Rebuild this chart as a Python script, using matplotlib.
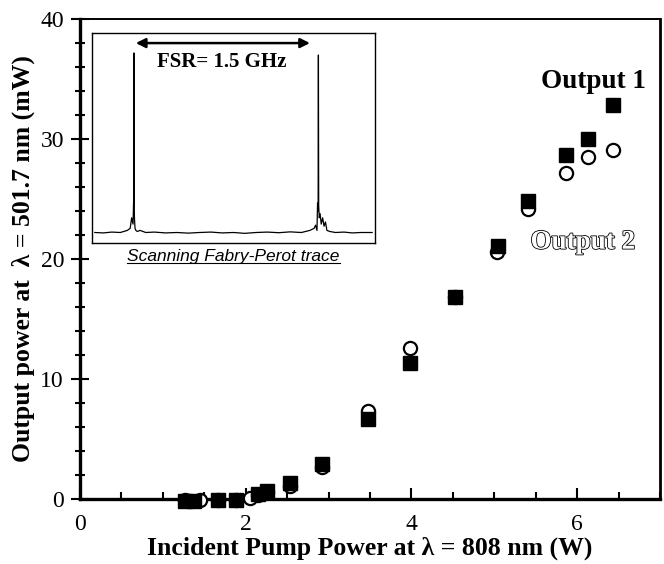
import matplotlib
matplotlib.use("Agg")
import matplotlib.pyplot as plt
import matplotlib.patheffects as pe
from matplotlib.ticker import MultipleLocator

# ---- data ----
out1_x = [1.27, 1.38, 1.67, 1.88, 2.15, 2.26, 2.54, 2.92, 3.47, 3.98, 4.52, 5.04, 5.41, 5.87, 6.13, 6.43]
out1_y = [-0.15, -0.15, -0.1, -0.1, 0.4, 0.7, 1.3, 2.9, 6.7, 11.3, 16.8, 21.1, 24.8, 28.7, 30.0, 32.8]
out2_x = [1.27, 1.45, 1.67, 1.88, 2.05, 2.15, 2.26, 2.54, 2.92, 3.47, 3.98, 4.52, 5.03, 5.41, 5.87, 6.13, 6.43]
out2_y = [-0.1, -0.1, -0.1, -0.1, 0.05, 0.35, 0.6, 1.1, 2.7, 7.3, 12.6, 16.8, 20.6, 24.2, 27.2, 28.5, 29.1]

x_ticks = [0, 2, 4, 6]
y_ticks = [0, 10, 20, 30, 40]

# Fabry-Perot trace (arbitrary units)
fp_x = [0.01, 0.04, 0.07, 0.10, 0.125, 0.135, 0.14, 0.145, 0.147, 0.148, 0.149, 0.150, 0.152, 0.155,
        0.16, 0.17, 0.19, 0.22, 0.26, 0.30, 0.34, 0.38, 0.42, 0.46, 0.50, 0.54, 0.58, 0.62, 0.66,
        0.70, 0.74, 0.77, 0.785, 0.79, 0.795, 0.797, 0.799, 0.800, 0.801, 0.803, 0.806, 0.81, 0.815,
        0.82, 0.825, 0.83, 0.84, 0.86, 0.89, 0.92, 0.95, 0.99]
fp_y = [0.05, 0.048, 0.052, 0.05, 0.06, 0.07, 0.12, 0.09, 0.20, 0.905, 0.20, 0.12, 0.07, 0.06,
        0.055, 0.06, 0.05, 0.052, 0.048, 0.05, 0.047, 0.05, 0.052, 0.048, 0.05, 0.046, 0.05, 0.052, 0.049,
        0.053, 0.05, 0.06, 0.07, 0.085, 0.06, 0.19, 0.15, 0.895, 0.18, 0.12, 0.14, 0.09, 0.12,
        0.08, 0.10, 0.06, 0.055, 0.05, 0.052, 0.048, 0.05, 0.05]

plt.rcParams['font.family'] = ['Liberation Serif', 'DejaVu Serif']

fig = plt.figure(figsize=(6.64, 5.64), dpi=100)
ax = fig.add_axes([80/664, 1-499/564, 580/664, 480/564])

ax.plot(out2_x, out2_y, linestyle='none', marker='o', markersize=9.5,
        markerfacecolor='white', markeredgecolor='black', markeredgewidth=1.6,
        clip_on=False, zorder=3)
ax.plot(out1_x, out1_y, linestyle='none', marker='s', markersize=10,
        markerfacecolor='black', markeredgecolor='black', clip_on=False, zorder=4)

ax.set_xlim(0, 7)
ax.set_ylim(0, 40)
ax.set_xticks(x_ticks)
ax.set_yticks(y_ticks)
ax.xaxis.set_minor_locator(MultipleLocator(0.5))
ax.yaxis.set_minor_locator(MultipleLocator(2))
ax.tick_params(axis='x', which='both', direction='in', top=False, labelsize=17, pad=11, width=1.5)
ax.tick_params(axis='x', which='major', length=8)
ax.tick_params(axis='x', which='minor', length=5)
ax.tick_params(axis='y', which='both', direction='inout', right=False, labelsize=17, pad=5, width=1.5)
ax.tick_params(axis='y', which='major', length=13)
ax.tick_params(axis='y', which='minor', length=7)
for s in ax.spines.values():
    s.set_linewidth(1.2)
ax.spines['left'].set_linewidth(2.4)
ax.spines['bottom'].set_linewidth(2.4)
ax.spines['right'].set_linewidth(2.0)
ax.spines['top'].set_linewidth(1.4)

ax.set_xlabel('Incident Pump Power at λ = 808 nm (W)', fontsize=18.5, fontweight='bold', labelpad=1)
ax.set_ylabel('Output power at  λ = 501.7 nm (mW)', fontsize=18.5, fontweight='bold', labelpad=4)

ax.text(6.2, 34.75, 'Output 1', fontsize=19.5, fontweight='bold', ha='center', va='center')
ax.text(6.07, 21.4, 'Output 2', fontsize=19.5, fontweight='bold', ha='center', va='center',
        color='white', path_effects=[pe.Stroke(linewidth=1.2, foreground='black'), pe.Normal()])

# inset
ins = fig.add_axes([92/664, 1-243/564, 283/664, 210/564])
ins.plot(fp_x, fp_y, color='black', linewidth=0.9)
ins.set_xlim(0, 1)
ins.set_ylim(0, 1)
ins.set_xticks([])
ins.set_yticks([])
for s in ins.spines.values():
    s.set_linewidth(1.0)
ins.annotate('', xy=(0.145, 0.952), xytext=(0.78, 0.952),
             arrowprops=dict(arrowstyle='<|-|>', color='black', lw=1.8, mutation_scale=14))
ins.text(0.46, 0.86, 'FSR= 1.5 GHz', fontsize=15, fontweight='bold', ha='center', va='center')

cap = fig.text((92+375)/2/664, 1-257/564, 'Scanning Fabry-Perot trace', fontsize=12.5,
               style='italic', family=['Liberation Sans', 'DejaVu Sans'], ha='center', va='center')
fig.canvas.draw()
bb = cap.get_window_extent(fig.canvas.get_renderer()).transformed(fig.transFigure.inverted())
fig.add_artist(plt.Line2D([bb.x0, bb.x1], [bb.y0 + 0.002, bb.y0 + 0.002], color='black', lw=0.8,
                          transform=fig.transFigure))

fig.savefig('out.png', dpi=100)
